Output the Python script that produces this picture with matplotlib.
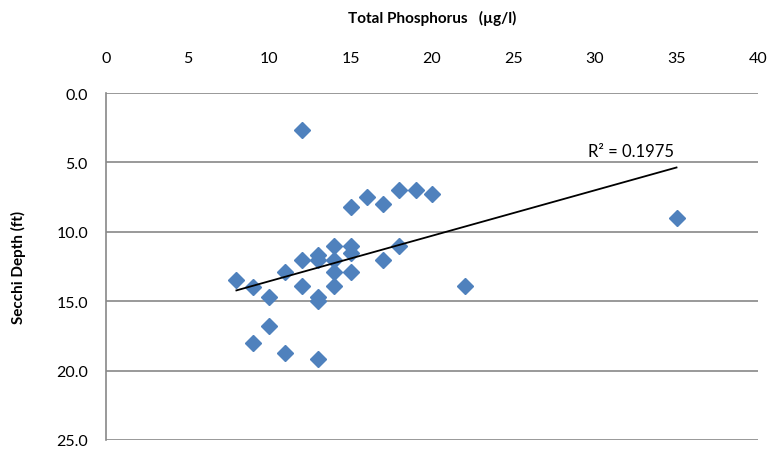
import numpy as np
import matplotlib.pyplot as plt

# ---------------------------------------
# Data
# ---------------------------------------
phosphorus = [12, 15, 16, 17, 18, 19, 20,
              14, 15, 15, 12, 13, 13, 14, 17, 18,
              8, 9, 11, 14, 15, 12, 14,
              10, 13, 13, 22, 10, 9, 11, 13, 35]
secchi = [2.7, 8.2, 7.5, 8.0, 7.0, 7.0, 7.3,
          11.0, 11.0, 11.5, 12.0, 11.7, 12.0, 12.0, 12.0, 11.0,
          13.5, 14.0, 12.9, 12.9, 12.9, 13.9, 13.9,
          14.7, 14.7, 15.0, 13.9, 16.8, 18.0, 18.7, 19.2, 9.0]

x_ticks = [0, 5, 10, 15, 20, 25, 30, 35, 40]
y_ticks = [0, 5, 10, 15, 20, 25]
r2_label = "R\u00b2 = 0.1975"

plt.rcParams['font.family'] = ['Lato', 'DejaVu Sans']

# ---------------------------------------
# Plot
# ---------------------------------------
fig = plt.figure(figsize=(7.72, 4.52), dpi=100)
ax = fig.add_axes([106 / 772, 1 - 441 / 452, (758 - 106) / 772, (441 - 94) / 452])

ax.plot(phosphorus, secchi, linestyle="none", marker="D", markersize=8.5,
        color="#4F81BD", zorder=3)

# linear trendline
slope, intercept = np.polyfit(phosphorus, secchi, 1)
xs = np.array([min(phosphorus), max(phosphorus)])
ax.plot(xs, slope * xs + intercept, color="black", linewidth=1.3, zorder=4)
ax.text(32.2, 4.2, r2_label, fontsize=12, ha="center", va="center")

ax.set_xlim(0, 40)
ax.set_ylim(25, 0)
ax.set_xticks(x_ticks)
ax.set_yticks(y_ticks)
ax.set_yticklabels([f"{v:.1f}" for v in y_ticks])
ax.xaxis.tick_top()
ax.xaxis.set_label_position("top")
ax.tick_params(axis="both", length=0, labelsize=11.5)
ax.tick_params(axis="x", pad=20)
ax.tick_params(axis="y", pad=13)

ax.set_xlabel("Total Phosphorus   (\u00b5g/l)", fontsize=11, fontweight="bold",
              labelpad=21)
ax.set_ylabel("Secchi Depth (ft)", fontsize=11, fontweight="bold", labelpad=22)

ax.grid(axis="y", color="#888888", linewidth=1.2)
ax.set_axisbelow(True)
for side in ["top", "right", "bottom"]:
    ax.spines[side].set_visible(False)
ax.spines["left"].set_color("#888888")
ax.spines["left"].set_linewidth(1.2)

plt.savefig("out.png", dpi=100)
